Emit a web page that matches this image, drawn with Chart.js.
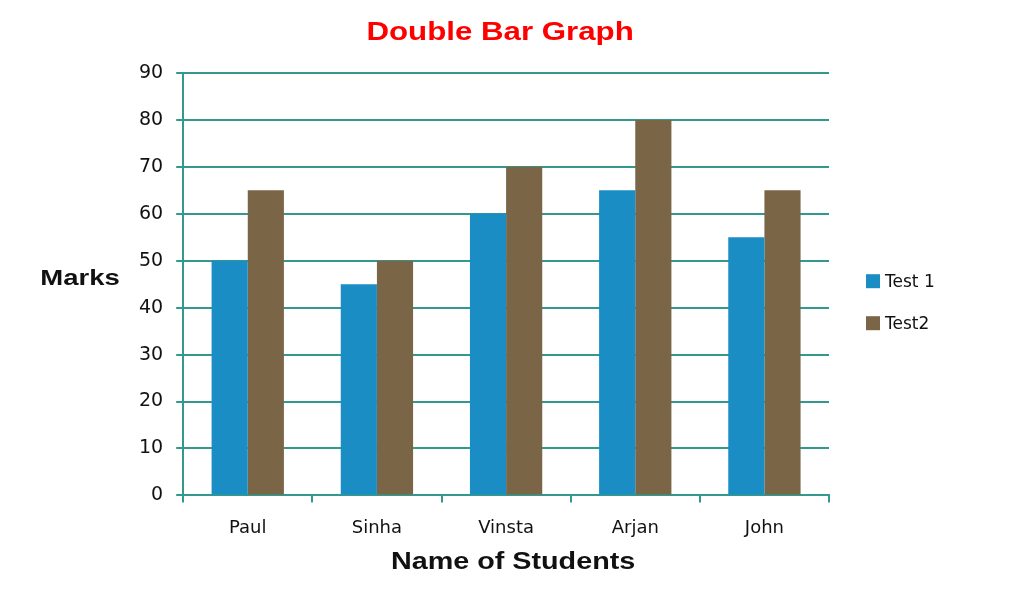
<!DOCTYPE html>
<html>
<head>
<meta charset="utf-8">
<script src="https://cdn.jsdelivr.net/npm/chart.js@4"></script>
<style>
  html, body { margin: 0; padding: 0; background: #fff; }
  #wrap { width: 1024px; height: 597px; }
</style>
</head>
<body>
<div id="wrap"><canvas id="chart"></canvas></div>
<script>
// Dados do gráfico
const students = ['Paul', 'Sinha', 'Vinsta', 'Arjan', 'John'];
const test1 = [50, 45, 60, 65, 55];
const test2 = [65, 50, 70, 80, 65];
const seriesNames = ['Test 1', 'Test2'];
const chartTitle = 'Double Bar Graph';
const yTitle = 'Marks';
const xTitle = 'Name of Students';

const teal = '#33998f';
const colors = ['#1a8ec4', '#7a6647'];
const textColor = '#111';

// Títulos e legenda desenhados à mão (títulos esticados na horizontal como no original)
const textPlugin = {
    id: 'textPlugin',
    afterDraw(chart) {
        const ctx = chart.ctx;
        const area = chart.chartArea;
        const cx = (area.left + area.right) / 2;
        const cy = (area.top + area.bottom) / 2;
        function stretched(text, x, y, size, color) {
            ctx.save();
            ctx.font = 'bold ' + size + 'px "Liberation Sans", Arial, sans-serif';
            ctx.fillStyle = color;
            ctx.textAlign = 'center';
            ctx.textBaseline = 'middle';
            ctx.translate(x, y);
            ctx.scale(1.25, 1);
            ctx.fillText(text, 0, 0);
            ctx.restore();
        }
        stretched(chartTitle, cx - 6, 33, 25, '#ff0000');
        stretched(yTitle, 80, 279, 22, '#111');
        stretched(xTitle, cx + 7, 563, 23, '#111');

        // Legenda
        ctx.save();
        ctx.font = '17px "DejaVu Sans", Verdana, sans-serif';
        ctx.textBaseline = 'middle';
        ctx.textAlign = 'left';
        chart.data.datasets.forEach((ds, i) => {
            const y = cy - 3 + i * 42;
            ctx.fillStyle = ds.backgroundColor;
            ctx.fillRect(area.right + 37, y - 7, 14, 14);
            ctx.fillStyle = textColor;
            ctx.fillText(ds.label, area.right + 56, y + 1);
        });
        ctx.restore();
    }
};

new Chart(document.getElementById('chart'), {
    type: 'bar',
    data: {
        labels: students,
        datasets: [
            { label: seriesNames[0], data: test1, backgroundColor: colors[0] },
            { label: seriesNames[1], data: test2, backgroundColor: colors[1] }
        ]
    },
    options: {
        responsive: true,
        maintainAspectRatio: false,
        animation: false,
        layout: { padding: { top: 73, left: 126, right: 195, bottom: 43 } },
        datasets: { bar: { categoryPercentage: 0.56, barPercentage: 1.0 } },
        plugins: {
            title: { display: false },
            tooltip: { enabled: false },
            legend: { display: false }
        },
        scales: {
            x: {
                grid: { drawOnChartArea: false, drawTicks: true, tickLength: 7, color: teal, lineWidth: 2 },
                border: { display: true, color: teal, width: 2 },
                ticks: {
                    color: textColor,
                    padding: 15,
                    font: { family: '"DejaVu Sans", Tahoma, sans-serif', size: 18 }
                }
            },
            y: {
                min: 0,
                max: 90,
                ticks: {
                    stepSize: 10,
                    color: textColor,
                    padding: 13,
                    font: { family: '"DejaVu Sans", Verdana, sans-serif', size: 19 }
                },
                grid: { drawTicks: true, tickLength: 7, color: teal, lineWidth: 2 },
                border: { display: true, color: teal, width: 2 }
            }
        }
    },
    plugins: [textPlugin]
});
</script>
</body>
</html>
